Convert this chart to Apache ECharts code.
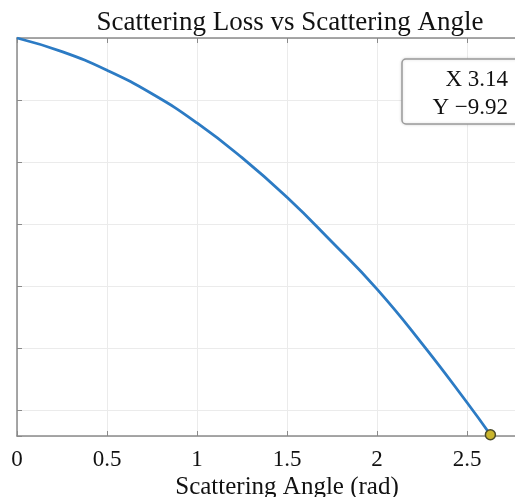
<!DOCTYPE html>
<html>
<head>
<meta charset="utf-8">
<script src="https://cdn.jsdelivr.net/npm/echarts@6/dist/echarts.min.js"></script>
<style>html,body{margin:0;padding:0;background:#fff;}#c{width:515px;height:497px;}</style>
</head>
<body>
<div id="c"></div>
<script>
const titleText = 'Scattering Loss vs Scattering Angle';
const xName = 'Scattering Angle (rad)';
const angle = [0, 0.25, 0.5, 0.75, 1.0, 1.25, 1.5, 1.75, 2.0, 2.25, 2.5, 2.63];
const loss  = [0, -0.22, -0.52, -0.90, -1.37, -1.93, -2.57, -3.29, -4.05, -4.93, -5.88, -6.40];
const tipX = '3.14';
const tipY = '\u22129.92';
const endIndex = angle.length - 1;

const chart = echarts.init(document.getElementById('c'), null, {renderer: 'canvas'});
const serif = 'Liberation Serif';
const axisGray = '#8a8a8a';
const gridGray = '#ebebeb';

chart.setOption({
  animation: false,
  backgroundColor: '#fff',
  grid: {left: 17, top: 38, width: 540, height: 398, containLabel: false, outerBoundsMode: 'none'},
  xAxis: [{
    type: 'value', min: 0, max: 3, interval: 0.5, position: 'bottom',
    name: xName, nameLocation: 'middle', nameGap: 39, nameMoveOverlap: false,
    nameTextStyle: {fontFamily: serif, fontSize: 25, color: '#111', verticalAlign: 'top'},
    axisLine: {show: true, onZero: false, lineStyle: {color: axisGray, width: 1.5}},
    axisTick: {show: true, inside: true, length: 5, lineStyle: {color: axisGray}},
    axisLabel: {fontFamily: serif, fontSize: 23, color: '#111', margin: 12,
      formatter: v => String(v)},
    splitLine: {show: true, lineStyle: {color: gridGray, width: 1}}
  }, {
    type: 'value', min: 0, max: 3, interval: 0.5, position: 'top',
    axisLine: {show: true, onZero: false, lineStyle: {color: axisGray, width: 1.5}},
    axisTick: {show: true, inside: true, length: 5, lineStyle: {color: axisGray}},
    axisLabel: {show: false}, splitLine: {show: false}
  }],
  yAxis: [{
    type: 'value', min: -6.42, max: 0, splitNumber: 6,
    axisLine: {show: true, onZero: false, lineStyle: {color: axisGray, width: 1.5}},
    axisTick: {show: true, inside: true, length: 5, lineStyle: {color: axisGray}},
    axisLabel: {show: false},
    splitLine: {show: true, lineStyle: {color: gridGray, width: 1}}
  }],
  series: [{
    type: 'line',
    data: angle.map((a, i) => [a, loss[i]]),
    smooth: 0.5,
    showSymbol: false,
    lineStyle: {color: '#2c7bc4', width: 2.8},
    markPoint: {
      symbol: 'circle', symbolSize: 10,
      itemStyle: {color: '#c9b52e', borderColor: '#4a4a2a', borderWidth: 1.5},
      label: {show: false},
      data: [{coord: [angle[endIndex], loss[endIndex]]}]
    }
  }],
  graphic: [
    {type: 'text', x: 290, y: 23, style: {text: titleText, font: '27px "Liberation Serif"', fill: '#111', textAlign: 'center', textVerticalAlign: 'middle'}},
    {type: 'rect', x: 402, y: 59, shape: {width: 140, height: 65, r: 4},
      style: {fill: '#fff', stroke: '#9a9a9a', lineWidth: 1.5, shadowBlur: 3, shadowColor: 'rgba(0,0,0,0.15)'}, z: 100},
    {type: 'text', x: 508, y: 80, z: 101, style: {text: 'X ' + tipX, font: '23px "Liberation Serif"', fill: '#111', textAlign: 'right', textVerticalAlign: 'middle'}},
    {type: 'text', x: 508, y: 108, z: 101, style: {text: 'Y ' + tipY, font: '23px "Liberation Serif"', fill: '#111', textAlign: 'right', textVerticalAlign: 'middle'}}
  ]
});
</script>
</body>
</html>
